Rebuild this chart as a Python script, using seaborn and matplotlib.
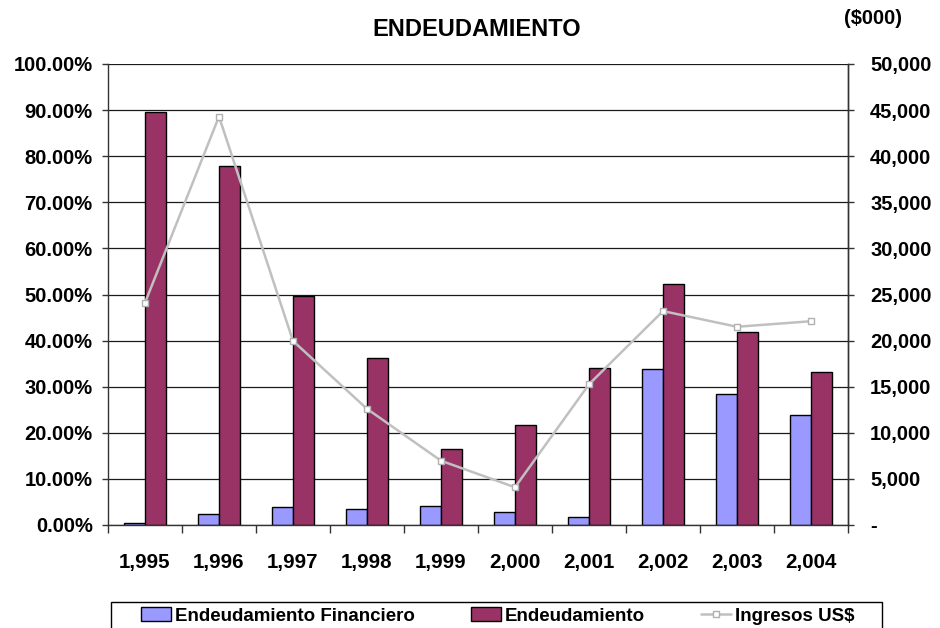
import numpy as np
import pandas as pd
import matplotlib
matplotlib.use("Agg")
import matplotlib.pyplot as plt
import seaborn as sns
from matplotlib.patches import Patch, Rectangle
from matplotlib.lines import Line2D
from matplotlib.ticker import FuncFormatter, MultipleLocator

years = ["1,995", "1,996", "1,997", "1,998", "1,999", "2,000", "2,001", "2,002", "2,003", "2,004"]
endeud_financiero = [0.4, 2.4, 3.8, 3.4, 4.1, 2.9, 1.7, 33.8, 28.4, 23.9]
endeudamiento = [89.5, 77.9, 49.6, 36.2, 16.4, 21.8, 34.1, 52.3, 41.9, 33.2]
ingresos = [24100, 44300, 19960, 12600, 6970, 4090, 15260, 23200, 21500, 22100]

series_names = ["Endeudamiento Financiero", "Endeudamiento", "Ingresos US$"]
bar_colors = ["#9999FF", "#993366"]
line_color = "#C0C0C0"

sns.set_style("white")
plt.rcParams["font.family"] = ["Liberation Sans", "DejaVu Sans"]
plt.rcParams["font.weight"] = "bold"
plt.rcParams["text.color"] = "black"
plt.rcParams["xtick.color"] = "black"
plt.rcParams["ytick.color"] = "black"
plt.rcParams["axes.labelcolor"] = "black"

df_bars = pd.DataFrame({
    "year": years * 2,
    "value": endeud_financiero + endeudamiento,
    "serie": [series_names[0]] * len(years) + [series_names[1]] * len(years),
})
df_line = pd.DataFrame({"year": years, "ingresos": ingresos})

W, H = 940, 628
fig = plt.figure(figsize=(9.4, 6.28), dpi=100)
ax = fig.add_axes([108 / W, 1 - 525 / H, (848 - 108) / W, (525 - 64) / H])

sns.barplot(data=df_bars, x="year", y="value", hue="serie", order=years,
            hue_order=series_names[:2], palette=bar_colors, saturation=1,
            width=0.58, edgecolor="black", linewidth=1.0, ax=ax, legend=False)
ax.set_xlim(-0.5, len(years) - 0.5)
ax.set_ylim(0, 100)
ax.yaxis.set_major_locator(MultipleLocator(10))
ax.yaxis.set_major_formatter(FuncFormatter(lambda v, p: f"{v:.2f}%"))
ax.set_axisbelow(True)
ax.grid(axis="y", color="#1a1a1a", linewidth=0.9)
ax.grid(axis="x", visible=False)
ax.set_xlabel("")
ax.set_ylabel("")
ax.spines["top"].set_visible(False)
for s in ["left", "bottom", "right"]:
    ax.spines[s].set_color("#333333")
    ax.spines[s].set_linewidth(1.0)

ax.tick_params(axis="y", which="major", left=True, length=4, width=1,
               color="#333333", labelsize=14.5, pad=7)
ax.tick_params(axis="x", which="major", length=0, labelsize=14.8, pad=20)
ax.set_xticks(np.arange(-0.5, len(years), 1.0), minor=True)
ax.tick_params(axis="x", which="minor", bottom=True, length=5.5, width=1, color="#333333")
for lab in ax.get_xticklabels() + ax.get_yticklabels():
    lab.set_fontweight("bold")

ax2 = ax.twinx()
sns.pointplot(data=df_line, x="year", y="ingresos", order=years, color=line_color,
              markers="s", markersize=4.5, linewidth=1.8, errorbar=None, ax=ax2)
for ln in ax2.lines:
    ln.set_markerfacecolor("white")
    ln.set_markeredgecolor("#B0B0B0")
    ln.set_markeredgewidth(1.0)
ax2.set_xlim(-0.5, len(years) - 0.5)
ax2.set_ylim(0, 50000)
ax2.yaxis.set_major_locator(MultipleLocator(5000))
ax2.yaxis.set_major_formatter(FuncFormatter(lambda v, p: "-" if v == 0 else f"{v:,.0f}"))
ax2.set_xlabel("")
ax2.set_ylabel("")
ax2.grid(False)
ax2.spines["top"].set_visible(False)
ax2.spines["left"].set_visible(False)
ax2.spines["bottom"].set_visible(False)
ax2.spines["right"].set_color("#333333")
ax2.spines["right"].set_linewidth(1.0)
ax2.tick_params(axis="y", right=True, length=4, width=1, color="#333333",
                labelsize=14.5, pad=12)
for lab in ax2.get_yticklabels():
    lab.set_fontweight("bold")

fig.text(477 / W, 1 - 30 / H, "ENDEUDAMIENTO", ha="center", va="center",
         fontsize=17, fontweight="bold")
fig.text(873 / W, 1 - 18 / H, "($000)", ha="center", va="center",
         fontsize=14.5, fontweight="bold")

handles = [
    Patch(facecolor=bar_colors[0], edgecolor="black", linewidth=1.0),
    Patch(facecolor=bar_colors[1], edgecolor="black", linewidth=1.0),
    Line2D([], [], color=line_color, linewidth=1.8, marker="s", markersize=4.5,
           markerfacecolor="white", markeredgecolor="#B0B0B0"),
]
leg = fig.legend(handles, series_names, loc="center left", ncol=3,
                 bbox_to_anchor=(141 / W, 1 - 616 / H),
                 borderaxespad=0, borderpad=0, frameon=False,
                 handlelength=1.6, handletextpad=0.2, columnspacing=3.0,
                 prop={"weight": "bold", "size": 13.5})
fig.add_artist(Rectangle((111 / W, 1 - 645 / H), (882 - 111) / W, (645 - 602) / H,
                         transform=fig.transFigure, fill=False, edgecolor="black",
                         linewidth=1.0, clip_on=False))

fig.savefig("out.png", dpi=100)
